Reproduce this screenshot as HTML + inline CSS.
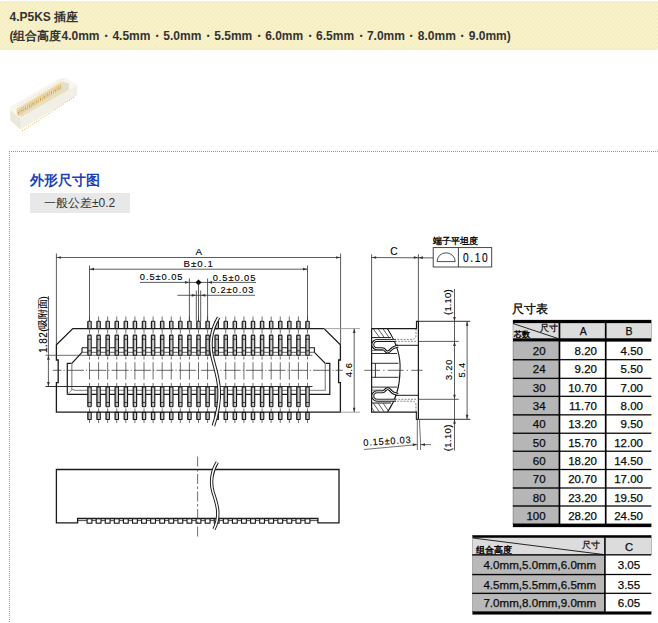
<!DOCTYPE html>
<html><head><meta charset="utf-8">
<style>
html,body{margin:0;padding:0;background:#fff;}
body{width:658px;height:623px;overflow:hidden;position:relative;font-family:"Liberation Sans",sans-serif;}
.hdr{position:absolute;left:0;top:1px;width:658px;height:49px;
 background:repeating-linear-gradient(135deg,#f9f2cf 0px,#f9f2cf 1.5px,#f6edbe 1.5px,#f6edbe 2.83px);}
.t1{position:absolute;left:9.5px;top:9px;font-size:12px;font-weight:bold;color:#333;white-space:nowrap;line-height:16px;}
.t2{position:absolute;left:9.5px;top:28px;font-size:12px;font-weight:bold;color:#333;white-space:nowrap;line-height:16px;}
.t2 i{font-style:normal;margin:0 0.45px;}
.dtop{position:absolute;left:9px;top:151px;width:649px;height:1px;background:repeating-linear-gradient(90deg,#999 0,#999 1px,transparent 1px,transparent 2px);}
.dleft{position:absolute;left:9px;top:151px;width:1px;height:472px;background:repeating-linear-gradient(180deg,#999 0,#999 1px,transparent 1px,transparent 2px);}
.ttl{position:absolute;left:30px;top:172px;font-size:13.5px;font-weight:bold;color:#1c40b8;white-space:nowrap;line-height:18px;}
.tol{position:absolute;left:30px;top:193px;width:100px;height:20px;background:#e8e8e8;}
.tol span{position:absolute;left:14px;top:2px;font-size:12px;color:#333;white-space:nowrap;line-height:16px;}
svg{position:absolute;left:0;top:0;}
svg text{font-family:"Liberation Sans",sans-serif;}
</style></head><body>
<div class="hdr"></div>
<div class="t1">4.P5KS 插座</div>
<div class="t2">(组合高度4.0mm<i>・</i>4.5mm<i>・</i>5.0mm<i>・</i>5.5mm<i>・</i>6.0mm<i>・</i>6.5mm<i>・</i>7.0mm<i>・</i>8.0mm<i>・</i>9.0mm)</div>
<svg width="658" height="623" viewBox="0 0 658 623">
<polygon points="10.4,106.8 59.8,78.3 65.5,78.3 77.1,85 77.1,95.1 20.5,129.2 16.5,126 10.4,120.3" fill="#f1eee5"/>
<polygon points="10.4,106.8 59.8,78.3 65.5,78.3 77.1,85 77.1,85.6 20.5,119 10.4,110.6" fill="#f8f6ef"/>
<polygon points="20.5,119 77.1,85.6 77.1,95.1 20.5,129.2" fill="#f2efe6"/>
<polygon points="10.4,110.6 20.5,119 20.5,129.2 16.5,126 10.4,120.3" fill="#ebe7da"/>
<polygon points="16.5,108.5 60.5,82.2 68.9,83.4 68.9,89.4 21,116.8 16.8,114.8" fill="#e9dfc2"/>
<polygon points="62.2,81.6 68.9,83.4 68.9,89.4 62.2,91.3" fill="#e4dece"/>
<circle cx="22.5" cy="130.6" r="0.55" fill="#e0b840"/><circle cx="24.54" cy="129.28" r="0.55" fill="#e0b840"/><circle cx="26.58" cy="127.95" r="0.55" fill="#e0b840"/><circle cx="28.62" cy="126.63" r="0.55" fill="#e0b840"/><circle cx="30.66" cy="125.3" r="0.55" fill="#e0b840"/><circle cx="32.7" cy="123.98" r="0.55" fill="#e0b840"/><circle cx="34.74" cy="122.66" r="0.55" fill="#e0b840"/><circle cx="36.78" cy="121.33" r="0.55" fill="#e0b840"/><circle cx="38.82" cy="120.01" r="0.55" fill="#e0b840"/><circle cx="40.86" cy="118.68" r="0.55" fill="#e0b840"/><circle cx="42.9" cy="117.36" r="0.55" fill="#e0b840"/><circle cx="44.94" cy="116.04" r="0.55" fill="#e0b840"/><circle cx="46.98" cy="114.71" r="0.55" fill="#e0b840"/><circle cx="49.02" cy="113.39" r="0.55" fill="#e0b840"/><circle cx="51.06" cy="112.06" r="0.55" fill="#e0b840"/><circle cx="53.1" cy="110.74" r="0.55" fill="#e0b840"/><circle cx="55.14" cy="109.42" r="0.55" fill="#e0b840"/><circle cx="57.18" cy="108.09" r="0.55" fill="#e0b840"/><circle cx="59.22" cy="106.77" r="0.55" fill="#e0b840"/><circle cx="61.26" cy="105.44" r="0.55" fill="#e0b840"/><circle cx="63.3" cy="104.12" r="0.55" fill="#e0b840"/><circle cx="65.34" cy="102.8" r="0.55" fill="#e0b840"/><circle cx="67.38" cy="101.47" r="0.55" fill="#e0b840"/><circle cx="69.42" cy="100.15" r="0.55" fill="#e0b840"/><circle cx="71.46" cy="98.82" r="0.55" fill="#e0b840"/><circle cx="73.5" cy="97.5" r="0.55" fill="#e0b840"/><line x1="18" y1="110.2" x2="18.5" y2="115.7" stroke="#d9bb70" stroke-width="0.8"/><circle cx="18" cy="110.2" r="0.6" fill="#f0cc4a"/><circle cx="18.3" cy="112.8" r="0.55" fill="#d06050"/><line x1="19.85" y1="109.08" x2="20.35" y2="114.58" stroke="#d9bb70" stroke-width="0.8"/><circle cx="19.85" cy="109.08" r="0.6" fill="#f0cc4a"/><circle cx="20.15" cy="111.68" r="0.55" fill="#e0a850"/><line x1="21.7" y1="107.96" x2="22.2" y2="113.46" stroke="#d9bb70" stroke-width="0.8"/><circle cx="21.7" cy="107.96" r="0.6" fill="#f0cc4a"/><circle cx="22" cy="110.56" r="0.55" fill="#d06050"/><line x1="23.54" y1="106.83" x2="24.04" y2="112.33" stroke="#d9bb70" stroke-width="0.8"/><circle cx="23.54" cy="106.83" r="0.6" fill="#f0cc4a"/><circle cx="23.84" cy="109.43" r="0.55" fill="#e0a850"/><line x1="25.39" y1="105.71" x2="25.89" y2="111.21" stroke="#d9bb70" stroke-width="0.8"/><circle cx="25.39" cy="105.71" r="0.6" fill="#f0cc4a"/><circle cx="25.69" cy="108.31" r="0.55" fill="#d06050"/><line x1="27.24" y1="104.59" x2="27.74" y2="110.09" stroke="#d9bb70" stroke-width="0.8"/><circle cx="27.24" cy="104.59" r="0.6" fill="#f0cc4a"/><circle cx="27.54" cy="107.19" r="0.55" fill="#e0a850"/><line x1="29.09" y1="103.47" x2="29.59" y2="108.97" stroke="#d9bb70" stroke-width="0.8"/><circle cx="29.09" cy="103.47" r="0.6" fill="#f0cc4a"/><circle cx="29.39" cy="106.07" r="0.55" fill="#d06050"/><line x1="30.93" y1="102.35" x2="31.43" y2="107.85" stroke="#d9bb70" stroke-width="0.8"/><circle cx="30.93" cy="102.35" r="0.6" fill="#f0cc4a"/><circle cx="31.23" cy="104.95" r="0.55" fill="#e0a850"/><line x1="32.78" y1="101.23" x2="33.28" y2="106.73" stroke="#d9bb70" stroke-width="0.8"/><circle cx="32.78" cy="101.23" r="0.6" fill="#f0cc4a"/><circle cx="33.08" cy="103.83" r="0.55" fill="#d06050"/><line x1="34.63" y1="100.1" x2="35.13" y2="105.6" stroke="#d9bb70" stroke-width="0.8"/><circle cx="34.63" cy="100.1" r="0.6" fill="#f0cc4a"/><circle cx="34.93" cy="102.7" r="0.55" fill="#e0a850"/><line x1="36.48" y1="98.98" x2="36.98" y2="104.48" stroke="#d9bb70" stroke-width="0.8"/><circle cx="36.48" cy="98.98" r="0.6" fill="#f0cc4a"/><circle cx="36.78" cy="101.58" r="0.55" fill="#d06050"/><line x1="38.33" y1="97.86" x2="38.83" y2="103.36" stroke="#d9bb70" stroke-width="0.8"/><circle cx="38.33" cy="97.86" r="0.6" fill="#f0cc4a"/><circle cx="38.63" cy="100.46" r="0.55" fill="#e0a850"/><line x1="40.17" y1="96.74" x2="40.67" y2="102.24" stroke="#d9bb70" stroke-width="0.8"/><circle cx="40.17" cy="96.74" r="0.6" fill="#f0cc4a"/><circle cx="40.47" cy="99.34" r="0.55" fill="#d06050"/><line x1="42.02" y1="95.62" x2="42.52" y2="101.12" stroke="#d9bb70" stroke-width="0.8"/><circle cx="42.02" cy="95.62" r="0.6" fill="#f0cc4a"/><circle cx="42.32" cy="98.22" r="0.55" fill="#e0a850"/><line x1="43.87" y1="94.5" x2="44.37" y2="100" stroke="#d9bb70" stroke-width="0.8"/><circle cx="43.87" cy="94.5" r="0.6" fill="#f0cc4a"/><circle cx="44.17" cy="97.1" r="0.55" fill="#d06050"/><line x1="45.72" y1="93.37" x2="46.22" y2="98.87" stroke="#d9bb70" stroke-width="0.8"/><circle cx="45.72" cy="93.37" r="0.6" fill="#f0cc4a"/><circle cx="46.02" cy="95.97" r="0.55" fill="#e0a850"/><line x1="47.57" y1="92.25" x2="48.07" y2="97.75" stroke="#d9bb70" stroke-width="0.8"/><circle cx="47.57" cy="92.25" r="0.6" fill="#f0cc4a"/><circle cx="47.87" cy="94.85" r="0.55" fill="#d06050"/><line x1="49.41" y1="91.13" x2="49.91" y2="96.63" stroke="#d9bb70" stroke-width="0.8"/><circle cx="49.41" cy="91.13" r="0.6" fill="#f0cc4a"/><circle cx="49.71" cy="93.73" r="0.55" fill="#e0a850"/><line x1="51.26" y1="90.01" x2="51.76" y2="95.51" stroke="#d9bb70" stroke-width="0.8"/><circle cx="51.26" cy="90.01" r="0.6" fill="#f0cc4a"/><circle cx="51.56" cy="92.61" r="0.55" fill="#d06050"/><line x1="53.11" y1="88.89" x2="53.61" y2="94.39" stroke="#d9bb70" stroke-width="0.8"/><circle cx="53.11" cy="88.89" r="0.6" fill="#f0cc4a"/><circle cx="53.41" cy="91.49" r="0.55" fill="#e0a850"/><line x1="54.96" y1="87.77" x2="55.46" y2="93.27" stroke="#d9bb70" stroke-width="0.8"/><circle cx="54.96" cy="87.77" r="0.6" fill="#f0cc4a"/><circle cx="55.26" cy="90.37" r="0.55" fill="#d06050"/><line x1="56.8" y1="86.64" x2="57.3" y2="92.14" stroke="#d9bb70" stroke-width="0.8"/><circle cx="56.8" cy="86.64" r="0.6" fill="#f0cc4a"/><circle cx="57.1" cy="89.24" r="0.55" fill="#e0a850"/><line x1="58.65" y1="85.52" x2="59.15" y2="91.02" stroke="#d9bb70" stroke-width="0.8"/><circle cx="58.65" cy="85.52" r="0.6" fill="#f0cc4a"/><circle cx="58.95" cy="88.12" r="0.55" fill="#d06050"/><line x1="60.5" y1="84.4" x2="61" y2="89.9" stroke="#d9bb70" stroke-width="0.8"/><circle cx="60.5" cy="84.4" r="0.6" fill="#f0cc4a"/><circle cx="60.8" cy="87" r="0.55" fill="#e0a850"/><circle cx="17.5" cy="105.5" r="0.5" fill="#f2dc78"/><circle cx="19.48" cy="104.37" r="0.5" fill="#f2dc78"/><circle cx="21.46" cy="103.24" r="0.5" fill="#f2dc78"/><circle cx="23.43" cy="102.11" r="0.5" fill="#f2dc78"/><circle cx="25.41" cy="100.98" r="0.5" fill="#f2dc78"/><circle cx="27.39" cy="99.85" r="0.5" fill="#f2dc78"/><circle cx="29.37" cy="98.72" r="0.5" fill="#f2dc78"/><circle cx="31.35" cy="97.59" r="0.5" fill="#f2dc78"/><circle cx="33.33" cy="96.46" r="0.5" fill="#f2dc78"/><circle cx="35.3" cy="95.33" r="0.5" fill="#f2dc78"/><circle cx="37.28" cy="94.2" r="0.5" fill="#f2dc78"/><circle cx="39.26" cy="93.07" r="0.5" fill="#f2dc78"/><circle cx="41.24" cy="91.93" r="0.5" fill="#f2dc78"/><circle cx="43.22" cy="90.8" r="0.5" fill="#f2dc78"/><circle cx="45.2" cy="89.67" r="0.5" fill="#f2dc78"/><circle cx="47.17" cy="88.54" r="0.5" fill="#f2dc78"/><circle cx="49.15" cy="87.41" r="0.5" fill="#f2dc78"/><circle cx="51.13" cy="86.28" r="0.5" fill="#f2dc78"/><circle cx="53.11" cy="85.15" r="0.5" fill="#f2dc78"/><circle cx="55.09" cy="84.02" r="0.5" fill="#f2dc78"/><circle cx="57.07" cy="82.89" r="0.5" fill="#f2dc78"/><circle cx="59.04" cy="81.76" r="0.5" fill="#f2dc78"/><circle cx="61.02" cy="80.63" r="0.5" fill="#f2dc78"/><circle cx="63" cy="79.5" r="0.5" fill="#f2dc78"/><circle cx="19.5" cy="118" r="0.55" fill="#f0d668"/><circle cx="21.52" cy="116.83" r="0.55" fill="#f0d668"/><circle cx="23.54" cy="115.65" r="0.55" fill="#f0d668"/><circle cx="25.57" cy="114.48" r="0.55" fill="#f0d668"/><circle cx="27.59" cy="113.3" r="0.55" fill="#f0d668"/><circle cx="29.61" cy="112.13" r="0.55" fill="#f0d668"/><circle cx="31.63" cy="110.96" r="0.55" fill="#f0d668"/><circle cx="33.65" cy="109.78" r="0.55" fill="#f0d668"/><circle cx="35.67" cy="108.61" r="0.55" fill="#f0d668"/><circle cx="37.7" cy="107.43" r="0.55" fill="#f0d668"/><circle cx="39.72" cy="106.26" r="0.55" fill="#f0d668"/><circle cx="41.74" cy="105.09" r="0.55" fill="#f0d668"/><circle cx="43.76" cy="103.91" r="0.55" fill="#f0d668"/><circle cx="45.78" cy="102.74" r="0.55" fill="#f0d668"/><circle cx="47.8" cy="101.57" r="0.55" fill="#f0d668"/><circle cx="49.83" cy="100.39" r="0.55" fill="#f0d668"/><circle cx="51.85" cy="99.22" r="0.55" fill="#f0d668"/><circle cx="53.87" cy="98.04" r="0.55" fill="#f0d668"/><circle cx="55.89" cy="96.87" r="0.55" fill="#f0d668"/><circle cx="57.91" cy="95.7" r="0.55" fill="#f0d668"/><circle cx="59.93" cy="94.52" r="0.55" fill="#f0d668"/><circle cx="61.96" cy="93.35" r="0.55" fill="#f0d668"/><circle cx="63.98" cy="92.17" r="0.55" fill="#f0d668"/><circle cx="66" cy="91" r="0.55" fill="#f0d668"/></svg>
<div class="dtop"></div><div class="dleft"></div>
<div class="ttl">外形尺寸图</div>
<div class="tol"><span>一般公差±0.2</span></div>
<svg width="658" height="623" viewBox="0 0 658 623">
<line x1="89.5" y1="316.5" x2="89.5" y2="321" stroke="#333" stroke-width="0.7" />
<line x1="89.5" y1="330" x2="89.5" y2="333.5" stroke="#333" stroke-width="0.7" />
<line x1="89.5" y1="356.5" x2="89.5" y2="359.5" stroke="#333" stroke-width="0.7" />
<line x1="89.5" y1="362.2" x2="89.5" y2="379.6" stroke="#333" stroke-width="0.7" />
<line x1="89.5" y1="383" x2="89.5" y2="386" stroke="#333" stroke-width="0.7" />
<line x1="89.5" y1="408.5" x2="89.5" y2="411.5" stroke="#333" stroke-width="0.7" />
<line x1="89.5" y1="420" x2="89.5" y2="423" stroke="#333" stroke-width="0.7" />
<line x1="98.58" y1="316.5" x2="98.58" y2="321" stroke="#333" stroke-width="0.7" />
<line x1="98.58" y1="330" x2="98.58" y2="333.5" stroke="#333" stroke-width="0.7" />
<line x1="98.58" y1="356.5" x2="98.58" y2="359.5" stroke="#333" stroke-width="0.7" />
<line x1="98.58" y1="362.2" x2="98.58" y2="379.6" stroke="#333" stroke-width="0.7" />
<line x1="98.58" y1="383" x2="98.58" y2="386" stroke="#333" stroke-width="0.7" />
<line x1="98.58" y1="408.5" x2="98.58" y2="411.5" stroke="#333" stroke-width="0.7" />
<line x1="98.58" y1="420" x2="98.58" y2="423" stroke="#333" stroke-width="0.7" />
<line x1="107.67" y1="316.5" x2="107.67" y2="321" stroke="#333" stroke-width="0.7" />
<line x1="107.67" y1="330" x2="107.67" y2="333.5" stroke="#333" stroke-width="0.7" />
<line x1="107.67" y1="356.5" x2="107.67" y2="359.5" stroke="#333" stroke-width="0.7" />
<line x1="107.67" y1="362.2" x2="107.67" y2="379.6" stroke="#333" stroke-width="0.7" />
<line x1="107.67" y1="383" x2="107.67" y2="386" stroke="#333" stroke-width="0.7" />
<line x1="107.67" y1="408.5" x2="107.67" y2="411.5" stroke="#333" stroke-width="0.7" />
<line x1="107.67" y1="420" x2="107.67" y2="423" stroke="#333" stroke-width="0.7" />
<line x1="116.75" y1="316.5" x2="116.75" y2="321" stroke="#333" stroke-width="0.7" />
<line x1="116.75" y1="330" x2="116.75" y2="333.5" stroke="#333" stroke-width="0.7" />
<line x1="116.75" y1="356.5" x2="116.75" y2="359.5" stroke="#333" stroke-width="0.7" />
<line x1="116.75" y1="362.2" x2="116.75" y2="379.6" stroke="#333" stroke-width="0.7" />
<line x1="116.75" y1="383" x2="116.75" y2="386" stroke="#333" stroke-width="0.7" />
<line x1="116.75" y1="408.5" x2="116.75" y2="411.5" stroke="#333" stroke-width="0.7" />
<line x1="116.75" y1="420" x2="116.75" y2="423" stroke="#333" stroke-width="0.7" />
<line x1="125.83" y1="316.5" x2="125.83" y2="321" stroke="#333" stroke-width="0.7" />
<line x1="125.83" y1="330" x2="125.83" y2="333.5" stroke="#333" stroke-width="0.7" />
<line x1="125.83" y1="356.5" x2="125.83" y2="359.5" stroke="#333" stroke-width="0.7" />
<line x1="125.83" y1="362.2" x2="125.83" y2="379.6" stroke="#333" stroke-width="0.7" />
<line x1="125.83" y1="383" x2="125.83" y2="386" stroke="#333" stroke-width="0.7" />
<line x1="125.83" y1="408.5" x2="125.83" y2="411.5" stroke="#333" stroke-width="0.7" />
<line x1="125.83" y1="420" x2="125.83" y2="423" stroke="#333" stroke-width="0.7" />
<line x1="134.92" y1="316.5" x2="134.92" y2="321" stroke="#333" stroke-width="0.7" />
<line x1="134.92" y1="330" x2="134.92" y2="333.5" stroke="#333" stroke-width="0.7" />
<line x1="134.92" y1="356.5" x2="134.92" y2="359.5" stroke="#333" stroke-width="0.7" />
<line x1="134.92" y1="362.2" x2="134.92" y2="379.6" stroke="#333" stroke-width="0.7" />
<line x1="134.92" y1="383" x2="134.92" y2="386" stroke="#333" stroke-width="0.7" />
<line x1="134.92" y1="408.5" x2="134.92" y2="411.5" stroke="#333" stroke-width="0.7" />
<line x1="134.92" y1="420" x2="134.92" y2="423" stroke="#333" stroke-width="0.7" />
<line x1="144" y1="316.5" x2="144" y2="321" stroke="#333" stroke-width="0.7" />
<line x1="144" y1="330" x2="144" y2="333.5" stroke="#333" stroke-width="0.7" />
<line x1="144" y1="356.5" x2="144" y2="359.5" stroke="#333" stroke-width="0.7" />
<line x1="144" y1="362.2" x2="144" y2="379.6" stroke="#333" stroke-width="0.7" />
<line x1="144" y1="383" x2="144" y2="386" stroke="#333" stroke-width="0.7" />
<line x1="144" y1="408.5" x2="144" y2="411.5" stroke="#333" stroke-width="0.7" />
<line x1="144" y1="420" x2="144" y2="423" stroke="#333" stroke-width="0.7" />
<line x1="153.08" y1="316.5" x2="153.08" y2="321" stroke="#333" stroke-width="0.7" />
<line x1="153.08" y1="330" x2="153.08" y2="333.5" stroke="#333" stroke-width="0.7" />
<line x1="153.08" y1="356.5" x2="153.08" y2="359.5" stroke="#333" stroke-width="0.7" />
<line x1="153.08" y1="362.2" x2="153.08" y2="379.6" stroke="#333" stroke-width="0.7" />
<line x1="153.08" y1="383" x2="153.08" y2="386" stroke="#333" stroke-width="0.7" />
<line x1="153.08" y1="408.5" x2="153.08" y2="411.5" stroke="#333" stroke-width="0.7" />
<line x1="153.08" y1="420" x2="153.08" y2="423" stroke="#333" stroke-width="0.7" />
<line x1="162.17" y1="316.5" x2="162.17" y2="321" stroke="#333" stroke-width="0.7" />
<line x1="162.17" y1="330" x2="162.17" y2="333.5" stroke="#333" stroke-width="0.7" />
<line x1="162.17" y1="356.5" x2="162.17" y2="359.5" stroke="#333" stroke-width="0.7" />
<line x1="162.17" y1="362.2" x2="162.17" y2="379.6" stroke="#333" stroke-width="0.7" />
<line x1="162.17" y1="383" x2="162.17" y2="386" stroke="#333" stroke-width="0.7" />
<line x1="162.17" y1="408.5" x2="162.17" y2="411.5" stroke="#333" stroke-width="0.7" />
<line x1="162.17" y1="420" x2="162.17" y2="423" stroke="#333" stroke-width="0.7" />
<line x1="171.25" y1="316.5" x2="171.25" y2="321" stroke="#333" stroke-width="0.7" />
<line x1="171.25" y1="330" x2="171.25" y2="333.5" stroke="#333" stroke-width="0.7" />
<line x1="171.25" y1="356.5" x2="171.25" y2="359.5" stroke="#333" stroke-width="0.7" />
<line x1="171.25" y1="362.2" x2="171.25" y2="379.6" stroke="#333" stroke-width="0.7" />
<line x1="171.25" y1="383" x2="171.25" y2="386" stroke="#333" stroke-width="0.7" />
<line x1="171.25" y1="408.5" x2="171.25" y2="411.5" stroke="#333" stroke-width="0.7" />
<line x1="171.25" y1="420" x2="171.25" y2="423" stroke="#333" stroke-width="0.7" />
<line x1="180.33" y1="316.5" x2="180.33" y2="321" stroke="#333" stroke-width="0.7" />
<line x1="180.33" y1="330" x2="180.33" y2="333.5" stroke="#333" stroke-width="0.7" />
<line x1="180.33" y1="356.5" x2="180.33" y2="359.5" stroke="#333" stroke-width="0.7" />
<line x1="180.33" y1="362.2" x2="180.33" y2="379.6" stroke="#333" stroke-width="0.7" />
<line x1="180.33" y1="383" x2="180.33" y2="386" stroke="#333" stroke-width="0.7" />
<line x1="180.33" y1="408.5" x2="180.33" y2="411.5" stroke="#333" stroke-width="0.7" />
<line x1="180.33" y1="420" x2="180.33" y2="423" stroke="#333" stroke-width="0.7" />
<line x1="189.42" y1="316.5" x2="189.42" y2="321" stroke="#333" stroke-width="0.7" />
<line x1="189.42" y1="330" x2="189.42" y2="333.5" stroke="#333" stroke-width="0.7" />
<line x1="189.42" y1="356.5" x2="189.42" y2="359.5" stroke="#333" stroke-width="0.7" />
<line x1="189.42" y1="362.2" x2="189.42" y2="379.6" stroke="#333" stroke-width="0.7" />
<line x1="189.42" y1="383" x2="189.42" y2="386" stroke="#333" stroke-width="0.7" />
<line x1="189.42" y1="408.5" x2="189.42" y2="411.5" stroke="#333" stroke-width="0.7" />
<line x1="189.42" y1="420" x2="189.42" y2="423" stroke="#333" stroke-width="0.7" />
<line x1="198.5" y1="316.5" x2="198.5" y2="321" stroke="#333" stroke-width="0.7" />
<line x1="198.5" y1="330" x2="198.5" y2="333.5" stroke="#333" stroke-width="0.7" />
<line x1="198.5" y1="356.5" x2="198.5" y2="359.5" stroke="#333" stroke-width="0.7" />
<line x1="198.5" y1="362.2" x2="198.5" y2="379.6" stroke="#333" stroke-width="0.7" />
<line x1="198.5" y1="383" x2="198.5" y2="386" stroke="#333" stroke-width="0.7" />
<line x1="198.5" y1="408.5" x2="198.5" y2="411.5" stroke="#333" stroke-width="0.7" />
<line x1="198.5" y1="420" x2="198.5" y2="423" stroke="#333" stroke-width="0.7" />
<line x1="207.58" y1="316.5" x2="207.58" y2="321" stroke="#333" stroke-width="0.7" />
<line x1="207.58" y1="330" x2="207.58" y2="333.5" stroke="#333" stroke-width="0.7" />
<line x1="207.58" y1="356.5" x2="207.58" y2="359.5" stroke="#333" stroke-width="0.7" />
<line x1="207.58" y1="362.2" x2="207.58" y2="379.6" stroke="#333" stroke-width="0.7" />
<line x1="207.58" y1="383" x2="207.58" y2="386" stroke="#333" stroke-width="0.7" />
<line x1="207.58" y1="408.5" x2="207.58" y2="411.5" stroke="#333" stroke-width="0.7" />
<line x1="207.58" y1="420" x2="207.58" y2="423" stroke="#333" stroke-width="0.7" />
<line x1="225.75" y1="316.5" x2="225.75" y2="321" stroke="#333" stroke-width="0.7" />
<line x1="225.75" y1="330" x2="225.75" y2="333.5" stroke="#333" stroke-width="0.7" />
<line x1="225.75" y1="356.5" x2="225.75" y2="359.5" stroke="#333" stroke-width="0.7" />
<line x1="225.75" y1="362.2" x2="225.75" y2="379.6" stroke="#333" stroke-width="0.7" />
<line x1="225.75" y1="383" x2="225.75" y2="386" stroke="#333" stroke-width="0.7" />
<line x1="225.75" y1="408.5" x2="225.75" y2="411.5" stroke="#333" stroke-width="0.7" />
<line x1="225.75" y1="420" x2="225.75" y2="423" stroke="#333" stroke-width="0.7" />
<line x1="234.83" y1="316.5" x2="234.83" y2="321" stroke="#333" stroke-width="0.7" />
<line x1="234.83" y1="330" x2="234.83" y2="333.5" stroke="#333" stroke-width="0.7" />
<line x1="234.83" y1="356.5" x2="234.83" y2="359.5" stroke="#333" stroke-width="0.7" />
<line x1="234.83" y1="362.2" x2="234.83" y2="379.6" stroke="#333" stroke-width="0.7" />
<line x1="234.83" y1="383" x2="234.83" y2="386" stroke="#333" stroke-width="0.7" />
<line x1="234.83" y1="408.5" x2="234.83" y2="411.5" stroke="#333" stroke-width="0.7" />
<line x1="234.83" y1="420" x2="234.83" y2="423" stroke="#333" stroke-width="0.7" />
<line x1="243.92" y1="316.5" x2="243.92" y2="321" stroke="#333" stroke-width="0.7" />
<line x1="243.92" y1="330" x2="243.92" y2="333.5" stroke="#333" stroke-width="0.7" />
<line x1="243.92" y1="356.5" x2="243.92" y2="359.5" stroke="#333" stroke-width="0.7" />
<line x1="243.92" y1="362.2" x2="243.92" y2="379.6" stroke="#333" stroke-width="0.7" />
<line x1="243.92" y1="383" x2="243.92" y2="386" stroke="#333" stroke-width="0.7" />
<line x1="243.92" y1="408.5" x2="243.92" y2="411.5" stroke="#333" stroke-width="0.7" />
<line x1="243.92" y1="420" x2="243.92" y2="423" stroke="#333" stroke-width="0.7" />
<line x1="253" y1="316.5" x2="253" y2="321" stroke="#333" stroke-width="0.7" />
<line x1="253" y1="330" x2="253" y2="333.5" stroke="#333" stroke-width="0.7" />
<line x1="253" y1="356.5" x2="253" y2="359.5" stroke="#333" stroke-width="0.7" />
<line x1="253" y1="362.2" x2="253" y2="379.6" stroke="#333" stroke-width="0.7" />
<line x1="253" y1="383" x2="253" y2="386" stroke="#333" stroke-width="0.7" />
<line x1="253" y1="408.5" x2="253" y2="411.5" stroke="#333" stroke-width="0.7" />
<line x1="253" y1="420" x2="253" y2="423" stroke="#333" stroke-width="0.7" />
<line x1="262.08" y1="316.5" x2="262.08" y2="321" stroke="#333" stroke-width="0.7" />
<line x1="262.08" y1="330" x2="262.08" y2="333.5" stroke="#333" stroke-width="0.7" />
<line x1="262.08" y1="356.5" x2="262.08" y2="359.5" stroke="#333" stroke-width="0.7" />
<line x1="262.08" y1="362.2" x2="262.08" y2="379.6" stroke="#333" stroke-width="0.7" />
<line x1="262.08" y1="383" x2="262.08" y2="386" stroke="#333" stroke-width="0.7" />
<line x1="262.08" y1="408.5" x2="262.08" y2="411.5" stroke="#333" stroke-width="0.7" />
<line x1="262.08" y1="420" x2="262.08" y2="423" stroke="#333" stroke-width="0.7" />
<line x1="271.17" y1="316.5" x2="271.17" y2="321" stroke="#333" stroke-width="0.7" />
<line x1="271.17" y1="330" x2="271.17" y2="333.5" stroke="#333" stroke-width="0.7" />
<line x1="271.17" y1="356.5" x2="271.17" y2="359.5" stroke="#333" stroke-width="0.7" />
<line x1="271.17" y1="362.2" x2="271.17" y2="379.6" stroke="#333" stroke-width="0.7" />
<line x1="271.17" y1="383" x2="271.17" y2="386" stroke="#333" stroke-width="0.7" />
<line x1="271.17" y1="408.5" x2="271.17" y2="411.5" stroke="#333" stroke-width="0.7" />
<line x1="271.17" y1="420" x2="271.17" y2="423" stroke="#333" stroke-width="0.7" />
<line x1="280.25" y1="316.5" x2="280.25" y2="321" stroke="#333" stroke-width="0.7" />
<line x1="280.25" y1="330" x2="280.25" y2="333.5" stroke="#333" stroke-width="0.7" />
<line x1="280.25" y1="356.5" x2="280.25" y2="359.5" stroke="#333" stroke-width="0.7" />
<line x1="280.25" y1="362.2" x2="280.25" y2="379.6" stroke="#333" stroke-width="0.7" />
<line x1="280.25" y1="383" x2="280.25" y2="386" stroke="#333" stroke-width="0.7" />
<line x1="280.25" y1="408.5" x2="280.25" y2="411.5" stroke="#333" stroke-width="0.7" />
<line x1="280.25" y1="420" x2="280.25" y2="423" stroke="#333" stroke-width="0.7" />
<line x1="289.33" y1="316.5" x2="289.33" y2="321" stroke="#333" stroke-width="0.7" />
<line x1="289.33" y1="330" x2="289.33" y2="333.5" stroke="#333" stroke-width="0.7" />
<line x1="289.33" y1="356.5" x2="289.33" y2="359.5" stroke="#333" stroke-width="0.7" />
<line x1="289.33" y1="362.2" x2="289.33" y2="379.6" stroke="#333" stroke-width="0.7" />
<line x1="289.33" y1="383" x2="289.33" y2="386" stroke="#333" stroke-width="0.7" />
<line x1="289.33" y1="408.5" x2="289.33" y2="411.5" stroke="#333" stroke-width="0.7" />
<line x1="289.33" y1="420" x2="289.33" y2="423" stroke="#333" stroke-width="0.7" />
<line x1="298.42" y1="316.5" x2="298.42" y2="321" stroke="#333" stroke-width="0.7" />
<line x1="298.42" y1="330" x2="298.42" y2="333.5" stroke="#333" stroke-width="0.7" />
<line x1="298.42" y1="356.5" x2="298.42" y2="359.5" stroke="#333" stroke-width="0.7" />
<line x1="298.42" y1="362.2" x2="298.42" y2="379.6" stroke="#333" stroke-width="0.7" />
<line x1="298.42" y1="383" x2="298.42" y2="386" stroke="#333" stroke-width="0.7" />
<line x1="298.42" y1="408.5" x2="298.42" y2="411.5" stroke="#333" stroke-width="0.7" />
<line x1="298.42" y1="420" x2="298.42" y2="423" stroke="#333" stroke-width="0.7" />
<line x1="307.5" y1="316.5" x2="307.5" y2="321" stroke="#333" stroke-width="0.7" />
<line x1="307.5" y1="330" x2="307.5" y2="333.5" stroke="#333" stroke-width="0.7" />
<line x1="307.5" y1="356.5" x2="307.5" y2="359.5" stroke="#333" stroke-width="0.7" />
<line x1="307.5" y1="362.2" x2="307.5" y2="379.6" stroke="#333" stroke-width="0.7" />
<line x1="307.5" y1="383" x2="307.5" y2="386" stroke="#333" stroke-width="0.7" />
<line x1="307.5" y1="408.5" x2="307.5" y2="411.5" stroke="#333" stroke-width="0.7" />
<line x1="307.5" y1="420" x2="307.5" y2="423" stroke="#333" stroke-width="0.7" />
<path d="M72.8,328.6 H324 L340.4,344.7 V360 H338.6 V382.6 H340.4 V412.2 H56.4 V382.6 H58.2 V360 H56.4 V344.7 Z" stroke="#1a1a1a" stroke-width="1.3" fill="none" />
<path d="M82,347.7 H314.4 V352.3" stroke="#1a1a1a" stroke-width="1.1" fill="none" />
<path d="M82,352.3 V347.7" stroke="#1a1a1a" stroke-width="1.1" fill="none" />
<line x1="82" y1="352.3" x2="314.4" y2="352.3" stroke="#1a1a1a" stroke-width="0.7" />
<line x1="45.5" y1="355.3" x2="312.5" y2="355.3" stroke="#333" stroke-width="0.7" />
<path d="M82,352.3 L71.8,363.3 H67.3 V394.3 H329.8 V363.3 H325.3 L314.4,352.3" stroke="#1a1a1a" stroke-width="1.2" fill="none" />
<path d="M71.8,363.3 V389.5 L75.5,390.4 H325.3 V363.3" stroke="#9a9a9a" stroke-width="1.4" fill="none" />
<line x1="67.3" y1="394.3" x2="72" y2="390" stroke="#9a9a9a" stroke-width="1" />
<line x1="45.5" y1="386.5" x2="312.5" y2="386.5" stroke="#1a1a1a" stroke-width="0.9" />
<line x1="52.8" y1="370.3" x2="342.8" y2="370.3" stroke="#333" stroke-width="0.75" stroke-dasharray="17.2,2,1.2,2" stroke-dashoffset="8.5"/>
<defs><linearGradient id="pg" x1="0" x2="1" y1="0" y2="0"><stop offset="0" stop-color="#8a8a8a"/><stop offset="0.5" stop-color="#c4c4c4"/><stop offset="1" stop-color="#f0f0f0"/></linearGradient></defs>
<rect x="87.8" y="321.2" width="3.4" height="7.4" fill="url(#pg)" stroke="#1a1a1a" stroke-width="1.15" rx="0.6"/>
<rect x="87.8" y="412.4" width="3.4" height="7.1" fill="url(#pg)" stroke="#1a1a1a" stroke-width="1.15" rx="0.6"/>
<rect x="87.8" y="335.1" width="3.4" height="20.1" fill="url(#pg)" stroke="#1a1a1a" stroke-width="1.15" rx="0.6"/>
<line x1="87.8" y1="339.3" x2="91.2" y2="339.3" stroke="#1a1a1a" stroke-width="0.8" />
<line x1="87.8" y1="350.8" x2="91.2" y2="350.8" stroke="#1a1a1a" stroke-width="0.8" />
<rect x="87.8" y="387" width="3.4" height="19.7" fill="url(#pg)" stroke="#1a1a1a" stroke-width="1.15" rx="0.6"/>
<line x1="87.8" y1="402.5" x2="91.2" y2="402.5" stroke="#1a1a1a" stroke-width="0.8" />
<rect x="96.88" y="321.2" width="3.4" height="7.4" fill="url(#pg)" stroke="#1a1a1a" stroke-width="1.15" rx="0.6"/>
<rect x="96.88" y="412.4" width="3.4" height="7.1" fill="url(#pg)" stroke="#1a1a1a" stroke-width="1.15" rx="0.6"/>
<rect x="96.88" y="335.1" width="3.4" height="20.1" fill="url(#pg)" stroke="#1a1a1a" stroke-width="1.15" rx="0.6"/>
<line x1="96.88" y1="339.3" x2="100.28" y2="339.3" stroke="#1a1a1a" stroke-width="0.8" />
<line x1="96.88" y1="350.8" x2="100.28" y2="350.8" stroke="#1a1a1a" stroke-width="0.8" />
<rect x="96.88" y="387" width="3.4" height="19.7" fill="url(#pg)" stroke="#1a1a1a" stroke-width="1.15" rx="0.6"/>
<line x1="96.88" y1="402.5" x2="100.28" y2="402.5" stroke="#1a1a1a" stroke-width="0.8" />
<rect x="105.97" y="321.2" width="3.4" height="7.4" fill="url(#pg)" stroke="#1a1a1a" stroke-width="1.15" rx="0.6"/>
<rect x="105.97" y="412.4" width="3.4" height="7.1" fill="url(#pg)" stroke="#1a1a1a" stroke-width="1.15" rx="0.6"/>
<rect x="105.97" y="335.1" width="3.4" height="20.1" fill="url(#pg)" stroke="#1a1a1a" stroke-width="1.15" rx="0.6"/>
<line x1="105.97" y1="339.3" x2="109.37" y2="339.3" stroke="#1a1a1a" stroke-width="0.8" />
<line x1="105.97" y1="350.8" x2="109.37" y2="350.8" stroke="#1a1a1a" stroke-width="0.8" />
<rect x="105.97" y="387" width="3.4" height="19.7" fill="url(#pg)" stroke="#1a1a1a" stroke-width="1.15" rx="0.6"/>
<line x1="105.97" y1="402.5" x2="109.37" y2="402.5" stroke="#1a1a1a" stroke-width="0.8" />
<rect x="115.05" y="321.2" width="3.4" height="7.4" fill="url(#pg)" stroke="#1a1a1a" stroke-width="1.15" rx="0.6"/>
<rect x="115.05" y="412.4" width="3.4" height="7.1" fill="url(#pg)" stroke="#1a1a1a" stroke-width="1.15" rx="0.6"/>
<rect x="115.05" y="335.1" width="3.4" height="20.1" fill="url(#pg)" stroke="#1a1a1a" stroke-width="1.15" rx="0.6"/>
<line x1="115.05" y1="339.3" x2="118.45" y2="339.3" stroke="#1a1a1a" stroke-width="0.8" />
<line x1="115.05" y1="350.8" x2="118.45" y2="350.8" stroke="#1a1a1a" stroke-width="0.8" />
<rect x="115.05" y="387" width="3.4" height="19.7" fill="url(#pg)" stroke="#1a1a1a" stroke-width="1.15" rx="0.6"/>
<line x1="115.05" y1="402.5" x2="118.45" y2="402.5" stroke="#1a1a1a" stroke-width="0.8" />
<rect x="124.13" y="321.2" width="3.4" height="7.4" fill="url(#pg)" stroke="#1a1a1a" stroke-width="1.15" rx="0.6"/>
<rect x="124.13" y="412.4" width="3.4" height="7.1" fill="url(#pg)" stroke="#1a1a1a" stroke-width="1.15" rx="0.6"/>
<rect x="124.13" y="335.1" width="3.4" height="20.1" fill="url(#pg)" stroke="#1a1a1a" stroke-width="1.15" rx="0.6"/>
<line x1="124.13" y1="339.3" x2="127.53" y2="339.3" stroke="#1a1a1a" stroke-width="0.8" />
<line x1="124.13" y1="350.8" x2="127.53" y2="350.8" stroke="#1a1a1a" stroke-width="0.8" />
<rect x="124.13" y="387" width="3.4" height="19.7" fill="url(#pg)" stroke="#1a1a1a" stroke-width="1.15" rx="0.6"/>
<line x1="124.13" y1="402.5" x2="127.53" y2="402.5" stroke="#1a1a1a" stroke-width="0.8" />
<rect x="133.22" y="321.2" width="3.4" height="7.4" fill="url(#pg)" stroke="#1a1a1a" stroke-width="1.15" rx="0.6"/>
<rect x="133.22" y="412.4" width="3.4" height="7.1" fill="url(#pg)" stroke="#1a1a1a" stroke-width="1.15" rx="0.6"/>
<rect x="133.22" y="335.1" width="3.4" height="20.1" fill="url(#pg)" stroke="#1a1a1a" stroke-width="1.15" rx="0.6"/>
<line x1="133.22" y1="339.3" x2="136.62" y2="339.3" stroke="#1a1a1a" stroke-width="0.8" />
<line x1="133.22" y1="350.8" x2="136.62" y2="350.8" stroke="#1a1a1a" stroke-width="0.8" />
<rect x="133.22" y="387" width="3.4" height="19.7" fill="url(#pg)" stroke="#1a1a1a" stroke-width="1.15" rx="0.6"/>
<line x1="133.22" y1="402.5" x2="136.62" y2="402.5" stroke="#1a1a1a" stroke-width="0.8" />
<rect x="142.3" y="321.2" width="3.4" height="7.4" fill="url(#pg)" stroke="#1a1a1a" stroke-width="1.15" rx="0.6"/>
<rect x="142.3" y="412.4" width="3.4" height="7.1" fill="url(#pg)" stroke="#1a1a1a" stroke-width="1.15" rx="0.6"/>
<rect x="142.3" y="335.1" width="3.4" height="20.1" fill="url(#pg)" stroke="#1a1a1a" stroke-width="1.15" rx="0.6"/>
<line x1="142.3" y1="339.3" x2="145.7" y2="339.3" stroke="#1a1a1a" stroke-width="0.8" />
<line x1="142.3" y1="350.8" x2="145.7" y2="350.8" stroke="#1a1a1a" stroke-width="0.8" />
<rect x="142.3" y="387" width="3.4" height="19.7" fill="url(#pg)" stroke="#1a1a1a" stroke-width="1.15" rx="0.6"/>
<line x1="142.3" y1="402.5" x2="145.7" y2="402.5" stroke="#1a1a1a" stroke-width="0.8" />
<rect x="151.38" y="321.2" width="3.4" height="7.4" fill="url(#pg)" stroke="#1a1a1a" stroke-width="1.15" rx="0.6"/>
<rect x="151.38" y="412.4" width="3.4" height="7.1" fill="url(#pg)" stroke="#1a1a1a" stroke-width="1.15" rx="0.6"/>
<rect x="151.38" y="335.1" width="3.4" height="20.1" fill="url(#pg)" stroke="#1a1a1a" stroke-width="1.15" rx="0.6"/>
<line x1="151.38" y1="339.3" x2="154.78" y2="339.3" stroke="#1a1a1a" stroke-width="0.8" />
<line x1="151.38" y1="350.8" x2="154.78" y2="350.8" stroke="#1a1a1a" stroke-width="0.8" />
<rect x="151.38" y="387" width="3.4" height="19.7" fill="url(#pg)" stroke="#1a1a1a" stroke-width="1.15" rx="0.6"/>
<line x1="151.38" y1="402.5" x2="154.78" y2="402.5" stroke="#1a1a1a" stroke-width="0.8" />
<rect x="160.47" y="321.2" width="3.4" height="7.4" fill="url(#pg)" stroke="#1a1a1a" stroke-width="1.15" rx="0.6"/>
<rect x="160.47" y="412.4" width="3.4" height="7.1" fill="url(#pg)" stroke="#1a1a1a" stroke-width="1.15" rx="0.6"/>
<rect x="160.47" y="335.1" width="3.4" height="20.1" fill="url(#pg)" stroke="#1a1a1a" stroke-width="1.15" rx="0.6"/>
<line x1="160.47" y1="339.3" x2="163.87" y2="339.3" stroke="#1a1a1a" stroke-width="0.8" />
<line x1="160.47" y1="350.8" x2="163.87" y2="350.8" stroke="#1a1a1a" stroke-width="0.8" />
<rect x="160.47" y="387" width="3.4" height="19.7" fill="url(#pg)" stroke="#1a1a1a" stroke-width="1.15" rx="0.6"/>
<line x1="160.47" y1="402.5" x2="163.87" y2="402.5" stroke="#1a1a1a" stroke-width="0.8" />
<rect x="169.55" y="321.2" width="3.4" height="7.4" fill="url(#pg)" stroke="#1a1a1a" stroke-width="1.15" rx="0.6"/>
<rect x="169.55" y="412.4" width="3.4" height="7.1" fill="url(#pg)" stroke="#1a1a1a" stroke-width="1.15" rx="0.6"/>
<rect x="169.55" y="335.1" width="3.4" height="20.1" fill="url(#pg)" stroke="#1a1a1a" stroke-width="1.15" rx="0.6"/>
<line x1="169.55" y1="339.3" x2="172.95" y2="339.3" stroke="#1a1a1a" stroke-width="0.8" />
<line x1="169.55" y1="350.8" x2="172.95" y2="350.8" stroke="#1a1a1a" stroke-width="0.8" />
<rect x="169.55" y="387" width="3.4" height="19.7" fill="url(#pg)" stroke="#1a1a1a" stroke-width="1.15" rx="0.6"/>
<line x1="169.55" y1="402.5" x2="172.95" y2="402.5" stroke="#1a1a1a" stroke-width="0.8" />
<rect x="178.63" y="321.2" width="3.4" height="7.4" fill="url(#pg)" stroke="#1a1a1a" stroke-width="1.15" rx="0.6"/>
<rect x="178.63" y="412.4" width="3.4" height="7.1" fill="url(#pg)" stroke="#1a1a1a" stroke-width="1.15" rx="0.6"/>
<rect x="178.63" y="335.1" width="3.4" height="20.1" fill="url(#pg)" stroke="#1a1a1a" stroke-width="1.15" rx="0.6"/>
<line x1="178.63" y1="339.3" x2="182.03" y2="339.3" stroke="#1a1a1a" stroke-width="0.8" />
<line x1="178.63" y1="350.8" x2="182.03" y2="350.8" stroke="#1a1a1a" stroke-width="0.8" />
<rect x="178.63" y="387" width="3.4" height="19.7" fill="url(#pg)" stroke="#1a1a1a" stroke-width="1.15" rx="0.6"/>
<line x1="178.63" y1="402.5" x2="182.03" y2="402.5" stroke="#1a1a1a" stroke-width="0.8" />
<rect x="187.72" y="321.2" width="3.4" height="7.4" fill="url(#pg)" stroke="#1a1a1a" stroke-width="1.15" rx="0.6"/>
<rect x="187.72" y="412.4" width="3.4" height="7.1" fill="url(#pg)" stroke="#1a1a1a" stroke-width="1.15" rx="0.6"/>
<rect x="187.72" y="335.1" width="3.4" height="20.1" fill="url(#pg)" stroke="#1a1a1a" stroke-width="1.15" rx="0.6"/>
<line x1="187.72" y1="339.3" x2="191.12" y2="339.3" stroke="#1a1a1a" stroke-width="0.8" />
<line x1="187.72" y1="350.8" x2="191.12" y2="350.8" stroke="#1a1a1a" stroke-width="0.8" />
<rect x="187.72" y="387" width="3.4" height="19.7" fill="url(#pg)" stroke="#1a1a1a" stroke-width="1.15" rx="0.6"/>
<line x1="187.72" y1="402.5" x2="191.12" y2="402.5" stroke="#1a1a1a" stroke-width="0.8" />
<rect x="196.8" y="321.2" width="3.4" height="7.4" fill="url(#pg)" stroke="#1a1a1a" stroke-width="1.15" rx="0.6"/>
<rect x="196.8" y="412.4" width="3.4" height="7.1" fill="url(#pg)" stroke="#1a1a1a" stroke-width="1.15" rx="0.6"/>
<rect x="196.8" y="335.1" width="3.4" height="20.1" fill="url(#pg)" stroke="#1a1a1a" stroke-width="1.15" rx="0.6"/>
<line x1="196.8" y1="339.3" x2="200.2" y2="339.3" stroke="#1a1a1a" stroke-width="0.8" />
<line x1="196.8" y1="350.8" x2="200.2" y2="350.8" stroke="#1a1a1a" stroke-width="0.8" />
<rect x="196.8" y="387" width="3.4" height="19.7" fill="url(#pg)" stroke="#1a1a1a" stroke-width="1.15" rx="0.6"/>
<line x1="196.8" y1="402.5" x2="200.2" y2="402.5" stroke="#1a1a1a" stroke-width="0.8" />
<rect x="205.88" y="321.2" width="3.4" height="7.4" fill="url(#pg)" stroke="#1a1a1a" stroke-width="1.15" rx="0.6"/>
<rect x="205.88" y="412.4" width="3.4" height="7.1" fill="url(#pg)" stroke="#1a1a1a" stroke-width="1.15" rx="0.6"/>
<rect x="205.88" y="335.1" width="3.4" height="20.1" fill="url(#pg)" stroke="#1a1a1a" stroke-width="1.15" rx="0.6"/>
<line x1="205.88" y1="339.3" x2="209.28" y2="339.3" stroke="#1a1a1a" stroke-width="0.8" />
<line x1="205.88" y1="350.8" x2="209.28" y2="350.8" stroke="#1a1a1a" stroke-width="0.8" />
<rect x="205.88" y="387" width="3.4" height="19.7" fill="url(#pg)" stroke="#1a1a1a" stroke-width="1.15" rx="0.6"/>
<line x1="205.88" y1="402.5" x2="209.28" y2="402.5" stroke="#1a1a1a" stroke-width="0.8" />
<rect x="214.97" y="321.2" width="3.4" height="7.4" fill="url(#pg)" stroke="#1a1a1a" stroke-width="1.15" rx="0.6"/>
<rect x="214.97" y="412.4" width="3.4" height="7.1" fill="url(#pg)" stroke="#1a1a1a" stroke-width="1.15" rx="0.6"/>
<rect x="214.97" y="335.1" width="3.4" height="20.1" fill="url(#pg)" stroke="#1a1a1a" stroke-width="1.15" rx="0.6"/>
<line x1="214.97" y1="339.3" x2="218.37" y2="339.3" stroke="#1a1a1a" stroke-width="0.8" />
<line x1="214.97" y1="350.8" x2="218.37" y2="350.8" stroke="#1a1a1a" stroke-width="0.8" />
<rect x="214.97" y="387" width="3.4" height="19.7" fill="url(#pg)" stroke="#1a1a1a" stroke-width="1.15" rx="0.6"/>
<line x1="214.97" y1="402.5" x2="218.37" y2="402.5" stroke="#1a1a1a" stroke-width="0.8" />
<rect x="224.05" y="321.2" width="3.4" height="7.4" fill="url(#pg)" stroke="#1a1a1a" stroke-width="1.15" rx="0.6"/>
<rect x="224.05" y="412.4" width="3.4" height="7.1" fill="url(#pg)" stroke="#1a1a1a" stroke-width="1.15" rx="0.6"/>
<rect x="224.05" y="335.1" width="3.4" height="20.1" fill="url(#pg)" stroke="#1a1a1a" stroke-width="1.15" rx="0.6"/>
<line x1="224.05" y1="339.3" x2="227.45" y2="339.3" stroke="#1a1a1a" stroke-width="0.8" />
<line x1="224.05" y1="350.8" x2="227.45" y2="350.8" stroke="#1a1a1a" stroke-width="0.8" />
<rect x="224.05" y="387" width="3.4" height="19.7" fill="url(#pg)" stroke="#1a1a1a" stroke-width="1.15" rx="0.6"/>
<line x1="224.05" y1="402.5" x2="227.45" y2="402.5" stroke="#1a1a1a" stroke-width="0.8" />
<rect x="233.13" y="321.2" width="3.4" height="7.4" fill="url(#pg)" stroke="#1a1a1a" stroke-width="1.15" rx="0.6"/>
<rect x="233.13" y="412.4" width="3.4" height="7.1" fill="url(#pg)" stroke="#1a1a1a" stroke-width="1.15" rx="0.6"/>
<rect x="233.13" y="335.1" width="3.4" height="20.1" fill="url(#pg)" stroke="#1a1a1a" stroke-width="1.15" rx="0.6"/>
<line x1="233.13" y1="339.3" x2="236.53" y2="339.3" stroke="#1a1a1a" stroke-width="0.8" />
<line x1="233.13" y1="350.8" x2="236.53" y2="350.8" stroke="#1a1a1a" stroke-width="0.8" />
<rect x="233.13" y="387" width="3.4" height="19.7" fill="url(#pg)" stroke="#1a1a1a" stroke-width="1.15" rx="0.6"/>
<line x1="233.13" y1="402.5" x2="236.53" y2="402.5" stroke="#1a1a1a" stroke-width="0.8" />
<rect x="242.22" y="321.2" width="3.4" height="7.4" fill="url(#pg)" stroke="#1a1a1a" stroke-width="1.15" rx="0.6"/>
<rect x="242.22" y="412.4" width="3.4" height="7.1" fill="url(#pg)" stroke="#1a1a1a" stroke-width="1.15" rx="0.6"/>
<rect x="242.22" y="335.1" width="3.4" height="20.1" fill="url(#pg)" stroke="#1a1a1a" stroke-width="1.15" rx="0.6"/>
<line x1="242.22" y1="339.3" x2="245.62" y2="339.3" stroke="#1a1a1a" stroke-width="0.8" />
<line x1="242.22" y1="350.8" x2="245.62" y2="350.8" stroke="#1a1a1a" stroke-width="0.8" />
<rect x="242.22" y="387" width="3.4" height="19.7" fill="url(#pg)" stroke="#1a1a1a" stroke-width="1.15" rx="0.6"/>
<line x1="242.22" y1="402.5" x2="245.62" y2="402.5" stroke="#1a1a1a" stroke-width="0.8" />
<rect x="251.3" y="321.2" width="3.4" height="7.4" fill="url(#pg)" stroke="#1a1a1a" stroke-width="1.15" rx="0.6"/>
<rect x="251.3" y="412.4" width="3.4" height="7.1" fill="url(#pg)" stroke="#1a1a1a" stroke-width="1.15" rx="0.6"/>
<rect x="251.3" y="335.1" width="3.4" height="20.1" fill="url(#pg)" stroke="#1a1a1a" stroke-width="1.15" rx="0.6"/>
<line x1="251.3" y1="339.3" x2="254.7" y2="339.3" stroke="#1a1a1a" stroke-width="0.8" />
<line x1="251.3" y1="350.8" x2="254.7" y2="350.8" stroke="#1a1a1a" stroke-width="0.8" />
<rect x="251.3" y="387" width="3.4" height="19.7" fill="url(#pg)" stroke="#1a1a1a" stroke-width="1.15" rx="0.6"/>
<line x1="251.3" y1="402.5" x2="254.7" y2="402.5" stroke="#1a1a1a" stroke-width="0.8" />
<rect x="260.38" y="321.2" width="3.4" height="7.4" fill="url(#pg)" stroke="#1a1a1a" stroke-width="1.15" rx="0.6"/>
<rect x="260.38" y="412.4" width="3.4" height="7.1" fill="url(#pg)" stroke="#1a1a1a" stroke-width="1.15" rx="0.6"/>
<rect x="260.38" y="335.1" width="3.4" height="20.1" fill="url(#pg)" stroke="#1a1a1a" stroke-width="1.15" rx="0.6"/>
<line x1="260.38" y1="339.3" x2="263.78" y2="339.3" stroke="#1a1a1a" stroke-width="0.8" />
<line x1="260.38" y1="350.8" x2="263.78" y2="350.8" stroke="#1a1a1a" stroke-width="0.8" />
<rect x="260.38" y="387" width="3.4" height="19.7" fill="url(#pg)" stroke="#1a1a1a" stroke-width="1.15" rx="0.6"/>
<line x1="260.38" y1="402.5" x2="263.78" y2="402.5" stroke="#1a1a1a" stroke-width="0.8" />
<rect x="269.47" y="321.2" width="3.4" height="7.4" fill="url(#pg)" stroke="#1a1a1a" stroke-width="1.15" rx="0.6"/>
<rect x="269.47" y="412.4" width="3.4" height="7.1" fill="url(#pg)" stroke="#1a1a1a" stroke-width="1.15" rx="0.6"/>
<rect x="269.47" y="335.1" width="3.4" height="20.1" fill="url(#pg)" stroke="#1a1a1a" stroke-width="1.15" rx="0.6"/>
<line x1="269.47" y1="339.3" x2="272.87" y2="339.3" stroke="#1a1a1a" stroke-width="0.8" />
<line x1="269.47" y1="350.8" x2="272.87" y2="350.8" stroke="#1a1a1a" stroke-width="0.8" />
<rect x="269.47" y="387" width="3.4" height="19.7" fill="url(#pg)" stroke="#1a1a1a" stroke-width="1.15" rx="0.6"/>
<line x1="269.47" y1="402.5" x2="272.87" y2="402.5" stroke="#1a1a1a" stroke-width="0.8" />
<rect x="278.55" y="321.2" width="3.4" height="7.4" fill="url(#pg)" stroke="#1a1a1a" stroke-width="1.15" rx="0.6"/>
<rect x="278.55" y="412.4" width="3.4" height="7.1" fill="url(#pg)" stroke="#1a1a1a" stroke-width="1.15" rx="0.6"/>
<rect x="278.55" y="335.1" width="3.4" height="20.1" fill="url(#pg)" stroke="#1a1a1a" stroke-width="1.15" rx="0.6"/>
<line x1="278.55" y1="339.3" x2="281.95" y2="339.3" stroke="#1a1a1a" stroke-width="0.8" />
<line x1="278.55" y1="350.8" x2="281.95" y2="350.8" stroke="#1a1a1a" stroke-width="0.8" />
<rect x="278.55" y="387" width="3.4" height="19.7" fill="url(#pg)" stroke="#1a1a1a" stroke-width="1.15" rx="0.6"/>
<line x1="278.55" y1="402.5" x2="281.95" y2="402.5" stroke="#1a1a1a" stroke-width="0.8" />
<rect x="287.63" y="321.2" width="3.4" height="7.4" fill="url(#pg)" stroke="#1a1a1a" stroke-width="1.15" rx="0.6"/>
<rect x="287.63" y="412.4" width="3.4" height="7.1" fill="url(#pg)" stroke="#1a1a1a" stroke-width="1.15" rx="0.6"/>
<rect x="287.63" y="335.1" width="3.4" height="20.1" fill="url(#pg)" stroke="#1a1a1a" stroke-width="1.15" rx="0.6"/>
<line x1="287.63" y1="339.3" x2="291.03" y2="339.3" stroke="#1a1a1a" stroke-width="0.8" />
<line x1="287.63" y1="350.8" x2="291.03" y2="350.8" stroke="#1a1a1a" stroke-width="0.8" />
<rect x="287.63" y="387" width="3.4" height="19.7" fill="url(#pg)" stroke="#1a1a1a" stroke-width="1.15" rx="0.6"/>
<line x1="287.63" y1="402.5" x2="291.03" y2="402.5" stroke="#1a1a1a" stroke-width="0.8" />
<rect x="296.72" y="321.2" width="3.4" height="7.4" fill="url(#pg)" stroke="#1a1a1a" stroke-width="1.15" rx="0.6"/>
<rect x="296.72" y="412.4" width="3.4" height="7.1" fill="url(#pg)" stroke="#1a1a1a" stroke-width="1.15" rx="0.6"/>
<rect x="296.72" y="335.1" width="3.4" height="20.1" fill="url(#pg)" stroke="#1a1a1a" stroke-width="1.15" rx="0.6"/>
<line x1="296.72" y1="339.3" x2="300.12" y2="339.3" stroke="#1a1a1a" stroke-width="0.8" />
<line x1="296.72" y1="350.8" x2="300.12" y2="350.8" stroke="#1a1a1a" stroke-width="0.8" />
<rect x="296.72" y="387" width="3.4" height="19.7" fill="url(#pg)" stroke="#1a1a1a" stroke-width="1.15" rx="0.6"/>
<line x1="296.72" y1="402.5" x2="300.12" y2="402.5" stroke="#1a1a1a" stroke-width="0.8" />
<rect x="305.8" y="321.2" width="3.4" height="7.4" fill="url(#pg)" stroke="#1a1a1a" stroke-width="1.15" rx="0.6"/>
<rect x="305.8" y="412.4" width="3.4" height="7.1" fill="url(#pg)" stroke="#1a1a1a" stroke-width="1.15" rx="0.6"/>
<rect x="305.8" y="335.1" width="3.4" height="20.1" fill="url(#pg)" stroke="#1a1a1a" stroke-width="1.15" rx="0.6"/>
<line x1="305.8" y1="339.3" x2="309.2" y2="339.3" stroke="#1a1a1a" stroke-width="0.8" />
<line x1="305.8" y1="350.8" x2="309.2" y2="350.8" stroke="#1a1a1a" stroke-width="0.8" />
<rect x="305.8" y="387" width="3.4" height="19.7" fill="url(#pg)" stroke="#1a1a1a" stroke-width="1.15" rx="0.6"/>
<line x1="305.8" y1="402.5" x2="309.2" y2="402.5" stroke="#1a1a1a" stroke-width="0.8" />
<path d="M218.6,317.3 C211,330 209,345 213,360 C218,378 224,395 213.4,425.9" stroke="#1a1a1a" stroke-width="3.6" fill="none" />
<path d="M218.6,317.3 C211,330 209,345 213,360 C218,378 224,395 213.4,425.9" stroke="#fff" stroke-width="1.6" fill="none" />
<line x1="56.4" y1="253.5" x2="56.4" y2="344" stroke="#333" stroke-width="0.8" />
<line x1="340.6" y1="253.5" x2="340.6" y2="344" stroke="#333" stroke-width="0.8" />
<line x1="56.4" y1="257.5" x2="340.6" y2="257.5" stroke="#333" stroke-width="0.8" />
<polygon points="56.6,257.5 60.9,256.15 60.9,258.85" fill="#333"/>
<polygon points="340.4,257.5 336.1,256.15 336.1,258.85" fill="#333"/>
<text x="198.7" y="255.3" font-size="9.8" text-anchor="middle" fill="#000" letter-spacing="0"  stroke="#000" stroke-width="0.12">A</text>
<line x1="89.5" y1="265.5" x2="89.5" y2="321" stroke="#333" stroke-width="0.8" />
<line x1="307.5" y1="265.5" x2="307.5" y2="321" stroke="#333" stroke-width="0.8" />
<line x1="89.5" y1="269.2" x2="307.5" y2="269.2" stroke="#333" stroke-width="0.8" />
<polygon points="89.7,269.2 94,267.85 94,270.55" fill="#333"/>
<polygon points="307.3,269.2 303,267.85 303,270.55" fill="#333"/>
<text x="183.4" y="267.4" font-size="9.7" text-anchor="start" fill="#000" textLength="29.4" lengthAdjust="spacing"  stroke="#000" stroke-width="0.12">B±0.1</text>
<line x1="189.42" y1="278.5" x2="189.42" y2="321" stroke="#333" stroke-width="0.8" />
<line x1="207.58" y1="278.5" x2="207.58" y2="321" stroke="#333" stroke-width="0.8" />
<line x1="140" y1="282.4" x2="256" y2="282.4" stroke="#333" stroke-width="0.8" />
<polygon points="189.22,282.4 184.92,281.05 184.92,283.75" fill="#333"/>
<polygon points="207.78,282.4 212.08,281.05 212.08,283.75" fill="#333"/>
<polygon points="195.9,282.4 198.5,279.8 201.1,282.4 198.5,285" fill="#000" stroke="#000" stroke-width="0.6" stroke-linejoin="round"/>
<text x="139.8" y="280.3" font-size="9.3" text-anchor="start" fill="#000" textLength="42.7" lengthAdjust="spacing"  stroke="#000" stroke-width="0.12">0.5±0.05</text>
<text x="212.7" y="280.8" font-size="9.3" text-anchor="start" fill="#000" textLength="42.7" lengthAdjust="spacing"  stroke="#000" stroke-width="0.12">0.5±0.05</text>
<text x="210.8" y="292.7" font-size="9.3" text-anchor="start" fill="#000" textLength="42.7" lengthAdjust="spacing"  stroke="#000" stroke-width="0.12">0.2±0.03</text>
<line x1="198.5" y1="282.4" x2="198.5" y2="321" stroke="#333" stroke-width="0.8" />
<line x1="196.3" y1="290.5" x2="196.3" y2="321" stroke="#333" stroke-width="0.8" />
<line x1="200.7" y1="290.5" x2="200.7" y2="321" stroke="#333" stroke-width="0.8" />
<line x1="177.4" y1="295.3" x2="255" y2="295.3" stroke="#333" stroke-width="0.8" />
<polygon points="196,295.3 191.7,293.95 191.7,296.65" fill="#333"/>
<polygon points="201,295.3 205.3,293.95 205.3,296.65" fill="#333"/>
<line x1="48.4" y1="296" x2="48.4" y2="386.5" stroke="#333" stroke-width="0.8" />
<polygon points="48.4,355.5 47.05,359.8 49.75,359.8" fill="#333"/>
<polygon points="48.4,386.3 47.05,382 49.75,382" fill="#333"/>
<text x="0" y="0" font-size="10" text-anchor="start" fill="#000" textLength="24.6" lengthAdjust="spacing" transform="translate(47.0,353) rotate(-90)" stroke="#000" stroke-width="0.12">1.82(</text>
<text x="0" y="0" font-size="10.2" text-anchor="start" fill="#000" letter-spacing="0" transform="translate(45.7,328.8) rotate(-90)" stroke="#000" stroke-width="0.12">吸附面</text>
<text x="0" y="0" font-size="10" text-anchor="start" fill="#000" letter-spacing="0" transform="translate(47.0,299.4) rotate(-90)" stroke="#000" stroke-width="0.12">)</text>
<line x1="324" y1="328.6" x2="360" y2="328.6" stroke="#9a9a9a" stroke-width="0.9" />
<line x1="340" y1="412.2" x2="360" y2="412.2" stroke="#9a9a9a" stroke-width="0.9" />
<line x1="354.2" y1="328.8" x2="354.2" y2="412" stroke="#333" stroke-width="0.8" />
<polygon points="354.2,328.8 352.85,333.1 355.55,333.1" fill="#333"/>
<polygon points="354.2,412 352.85,407.7 355.55,407.7" fill="#333"/>
<text x="0" y="0" font-size="9.3" text-anchor="start" fill="#000" textLength="14.3" lengthAdjust="spacing" transform="translate(351.5,377.3) rotate(-90)" stroke="#000" stroke-width="0.12">4.6</text>
<path d="M56.4,469.5 H339 V522.8 H317.9 V518.5 H77.6 V522.8 H56.4 Z" stroke="#1a1a1a" stroke-width="1.3" fill="none" />
<line x1="77.6" y1="520.6" x2="317.9" y2="520.6" stroke="#1a1a1a" stroke-width="0.8" />
<rect x="87.1" y="518.8" width="4.8" height="4.4" fill="#fff" stroke="#1a1a1a" stroke-width="1.1"/>
<rect x="96.18" y="518.8" width="4.8" height="4.4" fill="#fff" stroke="#1a1a1a" stroke-width="1.1"/>
<rect x="105.27" y="518.8" width="4.8" height="4.4" fill="#fff" stroke="#1a1a1a" stroke-width="1.1"/>
<rect x="114.35" y="518.8" width="4.8" height="4.4" fill="#fff" stroke="#1a1a1a" stroke-width="1.1"/>
<rect x="123.43" y="518.8" width="4.8" height="4.4" fill="#fff" stroke="#1a1a1a" stroke-width="1.1"/>
<rect x="132.52" y="518.8" width="4.8" height="4.4" fill="#fff" stroke="#1a1a1a" stroke-width="1.1"/>
<rect x="141.6" y="518.8" width="4.8" height="4.4" fill="#fff" stroke="#1a1a1a" stroke-width="1.1"/>
<rect x="150.68" y="518.8" width="4.8" height="4.4" fill="#fff" stroke="#1a1a1a" stroke-width="1.1"/>
<rect x="159.77" y="518.8" width="4.8" height="4.4" fill="#fff" stroke="#1a1a1a" stroke-width="1.1"/>
<rect x="168.85" y="518.8" width="4.8" height="4.4" fill="#fff" stroke="#1a1a1a" stroke-width="1.1"/>
<rect x="177.93" y="518.8" width="4.8" height="4.4" fill="#fff" stroke="#1a1a1a" stroke-width="1.1"/>
<rect x="187.02" y="518.8" width="4.8" height="4.4" fill="#fff" stroke="#1a1a1a" stroke-width="1.1"/>
<rect x="196.1" y="518.8" width="4.8" height="4.4" fill="#fff" stroke="#1a1a1a" stroke-width="1.1"/>
<rect x="205.18" y="518.8" width="4.8" height="4.4" fill="#fff" stroke="#1a1a1a" stroke-width="1.1"/>
<rect x="214.27" y="518.8" width="4.8" height="4.4" fill="#fff" stroke="#1a1a1a" stroke-width="1.1"/>
<rect x="223.35" y="518.8" width="4.8" height="4.4" fill="#fff" stroke="#1a1a1a" stroke-width="1.1"/>
<rect x="232.43" y="518.8" width="4.8" height="4.4" fill="#fff" stroke="#1a1a1a" stroke-width="1.1"/>
<rect x="241.52" y="518.8" width="4.8" height="4.4" fill="#fff" stroke="#1a1a1a" stroke-width="1.1"/>
<rect x="250.6" y="518.8" width="4.8" height="4.4" fill="#fff" stroke="#1a1a1a" stroke-width="1.1"/>
<rect x="259.68" y="518.8" width="4.8" height="4.4" fill="#fff" stroke="#1a1a1a" stroke-width="1.1"/>
<rect x="268.77" y="518.8" width="4.8" height="4.4" fill="#fff" stroke="#1a1a1a" stroke-width="1.1"/>
<rect x="277.85" y="518.8" width="4.8" height="4.4" fill="#fff" stroke="#1a1a1a" stroke-width="1.1"/>
<rect x="286.93" y="518.8" width="4.8" height="4.4" fill="#fff" stroke="#1a1a1a" stroke-width="1.1"/>
<rect x="296.02" y="518.8" width="4.8" height="4.4" fill="#fff" stroke="#1a1a1a" stroke-width="1.1"/>
<rect x="305.1" y="518.8" width="4.8" height="4.4" fill="#fff" stroke="#1a1a1a" stroke-width="1.1"/>
<line x1="197.6" y1="456.5" x2="197.6" y2="537" stroke="#333" stroke-width="0.7" stroke-dasharray="10,2.5,2.5,2.5"/>
<path d="M217.3,462.3 C212,470 210,482 213,492 C217,504 221,515 214,529.3" stroke="#1a1a1a" stroke-width="3.4" fill="none" />
<path d="M217.3,462.3 C212,470 210,482 213,492 C217,504 221,515 214,529.3" stroke="#fff" stroke-width="1.5" fill="none" />
<line x1="371.6" y1="254.3" x2="371.6" y2="330" stroke="#333" stroke-width="0.8" />
<line x1="418.4" y1="254.3" x2="418.4" y2="322" stroke="#333" stroke-width="0.8" />
<line x1="371.6" y1="257.5" x2="433.2" y2="257.9" stroke="#333" stroke-width="0.8" />
<polygon points="371.8,257.5 376.1,256.15 376.1,258.85" fill="#333"/>
<polygon points="418.2,257.5 413.9,256.15 413.9,258.85" fill="#333"/>
<polygon points="418.6,257.7 422.9,256.35 422.9,259.05" fill="#333"/>
<text x="394" y="255.4" font-size="10.2" text-anchor="middle" fill="#000" letter-spacing="0"  stroke="#000" stroke-width="0.12">C</text>
<rect x="433.2" y="247.6" width="58.5" height="19.4" fill="none" stroke="#333" stroke-width="0.9"/>
<line x1="458.4" y1="247.6" x2="458.4" y2="267" stroke="#333" stroke-width="0.9" />
<path d="M437,261.6 A9.1,8.8 0 0 1 455.2,261.6 Z" stroke="#222" stroke-width="0.8" fill="none" />
<text x="0" y="0" font-size="12.4" text-anchor="start" fill="#000" textLength="30.2" lengthAdjust="spacing" transform="translate(462.9,261.9) scale(0.82,1)" stroke="#000" stroke-width="0.12">0.10</text>
<text x="432.8" y="244.2" font-size="9.1" text-anchor="start" fill="#000" letter-spacing="0" stroke="#000" stroke-width="0.35">端子平坦度</text>
<path d="M371.6,328.6 H416.5 V321.3 H418.4" stroke="#1a1a1a" stroke-width="1.2" fill="none" />
<line x1="418.4" y1="321.3" x2="470.3" y2="321.3" stroke="#1a1a1a" stroke-width="0.9" />
<path d="M371.6,328.6 V412.2 H416.5 V419.3 H418.4" stroke="#1a1a1a" stroke-width="1.2" fill="none" />
<line x1="418.4" y1="419.3" x2="470.3" y2="419.3" stroke="#1a1a1a" stroke-width="0.9" />
<line x1="418.4" y1="321.3" x2="418.4" y2="419.3" stroke="#1a1a1a" stroke-width="1.2" />
<clipPath id="h1"><polygon points="372,329 388,329 391,337.5 372,337.5"/></clipPath>
<clipPath id="h2"><polygon points="372,403 391,403 388,412 372,412"/></clipPath>
<path d="M373.5,329 l6,8.6 M378.3,329 l6,8.6 M383.1,329 l6,8.6 M388,329 l6,8.6 " stroke="#333" stroke-width="0.8" clip-path="url(#h1)"/>
<path d="M368.5,403.2 l6,8.6 M373.3,403.2 l6,8.6 M378.1,403.2 l6,8.6 M383,403.2 l6,8.6 " stroke="#333" stroke-width="0.8" clip-path="url(#h2)"/>
<line x1="371.6" y1="337.6" x2="391" y2="337.6" stroke="#1a1a1a" stroke-width="1" />
<line x1="371.6" y1="403" x2="391" y2="403" stroke="#1a1a1a" stroke-width="1" />
<path d="M387.5,328.8 C396,342 401,356 400,370.3 C400,386 396,400 387.5,412" stroke="#1a1a1a" stroke-width="1.1" fill="none" />
<path d="M396,340.4 H377 A4.2,4.2 0 0 0 377,348.8 H382.5 C385,348.8 385.5,352 387.5,352 C390,352 391,348.6 393.5,347.6 L398,346" stroke="#1a1a1a" stroke-width="3.0" fill="none" />
<path d="M396,340.4 H377 A4.2,4.2 0 0 0 377,348.8 H382.5 C385,348.8 385.5,352 387.5,352 C390,352 391,348.6 393.5,347.6 L398,346" stroke="#fff" stroke-width="1.0" fill="none" />
<path d="M396,400.2 H377 A4.2,4.2 0 0 1 377,391.8 H382.5 C385,391.8 385.5,388.6 387.5,388.6 C390,388.6 391,392 393.5,393 L398,394.6" stroke="#1a1a1a" stroke-width="3.0" fill="none" />
<path d="M396,400.2 H377 A4.2,4.2 0 0 1 377,391.8 H382.5 C385,391.8 385.5,388.6 387.5,388.6 C390,388.6 391,392 393.5,393 L398,394.6" stroke="#fff" stroke-width="1.0" fill="none" />
<line x1="371.6" y1="350.5" x2="383" y2="350.5" stroke="#555" stroke-width="0.8" />
<line x1="371.6" y1="353.5" x2="397" y2="353.5" stroke="#1a1a1a" stroke-width="0.9" />
<line x1="371.6" y1="363.3" x2="398.5" y2="363.3" stroke="#1a1a1a" stroke-width="0.9" />
<line x1="371.6" y1="377.3" x2="398.5" y2="377.3" stroke="#1a1a1a" stroke-width="0.9" />
<line x1="371.6" y1="390.1" x2="383" y2="390.1" stroke="#555" stroke-width="0.8" />
<line x1="371.6" y1="387.1" x2="397" y2="387.1" stroke="#1a1a1a" stroke-width="0.9" />
<line x1="375.4" y1="363.3" x2="375.4" y2="377.3" stroke="#1a1a1a" stroke-width="0.9" />
<line x1="395" y1="345.3" x2="418.4" y2="345.3" stroke="#1a1a1a" stroke-width="1" />
<line x1="395" y1="395.3" x2="418.4" y2="395.3" stroke="#1a1a1a" stroke-width="1" />
<path d="M394,339.4 H412 Q416,339.4 416,335 V329" stroke="#555" stroke-width="0.7" fill="none" stroke-dasharray="2,1.2"/>
<line x1="395" y1="341.3" x2="416" y2="341.3" stroke="#555" stroke-width="0.7" stroke-dasharray="2,1.2"/>
<path d="M394,401.2 H412 Q416,401.2 416,405 V412" stroke="#555" stroke-width="0.7" fill="none" stroke-dasharray="2,1.2"/>
<line x1="395" y1="399.3" x2="416" y2="399.3" stroke="#555" stroke-width="0.7" stroke-dasharray="2,1.2"/>
<line x1="416.3" y1="413" x2="416.3" y2="419.3" stroke="#555" stroke-width="0.7" />
<line x1="364.3" y1="370.3" x2="422.6" y2="370.3" stroke="#333" stroke-width="0.75" stroke-dasharray="15.7,3.3,1.2,3.3"/>
<line x1="418.4" y1="341.4" x2="458.8" y2="341.4" stroke="#333" stroke-width="0.8" />
<line x1="418.4" y1="399.3" x2="458.8" y2="399.3" stroke="#333" stroke-width="0.8" />
<line x1="454.5" y1="289" x2="454.5" y2="450.5" stroke="#333" stroke-width="0.8" />
<polygon points="454.5,321.2 453.15,316.9 455.85,316.9" fill="#333"/>
<polygon points="454.5,341.6 453.15,345.9 455.85,345.9" fill="#333"/>
<polygon points="454.5,399.1 453.15,394.8 455.85,394.8" fill="#333"/>
<polygon points="454.5,419.5 453.15,423.8 455.85,423.8" fill="#333"/>
<line x1="467.1" y1="321.5" x2="467.1" y2="419.1" stroke="#333" stroke-width="0.8" />
<polygon points="467.1,321.5 465.75,325.8 468.45,325.8" fill="#333"/>
<polygon points="467.1,419.1 465.75,414.8 468.45,414.8" fill="#333"/>
<text x="0" y="0" font-size="9.5" text-anchor="start" fill="#000" textLength="25.5" lengthAdjust="spacing" transform="translate(451.4,314.9) rotate(-90)" stroke="#000" stroke-width="0.12">(1.10)</text>
<text x="0" y="0" font-size="9.3" text-anchor="start" fill="#000" textLength="20.5" lengthAdjust="spacing" transform="translate(452.3,380) rotate(-90)" stroke="#000" stroke-width="0.12">3.20</text>
<text x="0" y="0" font-size="9.3" text-anchor="start" fill="#000" textLength="14.6" lengthAdjust="spacing" transform="translate(465.2,377.4) rotate(-90)" stroke="#000" stroke-width="0.12">5.4</text>
<text x="0" y="0" font-size="9.5" text-anchor="start" fill="#000" textLength="26.5" lengthAdjust="spacing" transform="translate(451.2,451.2) rotate(-90)" stroke="#000" stroke-width="0.12">(1.10)</text>
<line x1="417.3" y1="419.3" x2="417.3" y2="450" stroke="#333" stroke-width="0.7" />
<path d="M419.5,419.3 C419.5,430 421,440 420.5,450" stroke="#333" stroke-width="0.7" fill="none" />
<line x1="364" y1="449.5" x2="417.2" y2="444.6" stroke="#333" stroke-width="0.7" />
<polygon points="417.1,444.6 412.8,443.25 412.8,445.95" fill="#333"/>
<polygon points="420.7,444.6 425,443.25 425,445.95" fill="#333"/>
<line x1="420.7" y1="444.6" x2="431" y2="444.6" stroke="#333" stroke-width="0.7" />
<text x="0" y="0" font-size="9.3" text-anchor="start" fill="#000" textLength="47.3" lengthAdjust="spacing" transform="translate(363.6,446) rotate(-3.9)" stroke="#000" stroke-width="0.12">0.15±0.03</text>
<g stroke="#000" stroke-width="0.25"><rect x="513" y="320" width="138.2" height="3" fill="#000"/>
<rect x="513" y="323" width="138.2" height="15.6" fill="#dcdcdc"/>
<rect x="513" y="338.5" width="138.2" height="3" fill="#000"/>
<line x1="513" y1="323.5" x2="558" y2="338.5" stroke="#111" stroke-width="0.9"/>
<text x="558.3" y="331.2" font-size="9" text-anchor="end" fill="#000">尺寸</text>
<text x="513.6" y="336.6" font-size="8" fill="#000" stroke-width="0.4">芯数</text>
<text x="583.2" y="334.5" font-size="10.5" text-anchor="middle" fill="#111">A</text>
<text x="629" y="334.5" font-size="10.5" text-anchor="middle" fill="#111">B</text>
<rect x="513" y="341.4" width="46.4" height="18.2" fill="#b6b6b6"/>
<text x="545.6" y="354.9" font-size="11.5" text-anchor="end" fill="#111">20</text>
<text x="597" y="354.9" font-size="11.5" text-anchor="end" fill="#111">8.20</text>
<text x="643" y="354.9" font-size="11.5" text-anchor="end" fill="#111">4.50</text>
<rect x="513" y="360.1" width="46.4" height="18.3" fill="#b6b6b6"/>
<rect x="513" y="359.1" width="138.2" height="1" fill="#000"/>
<text x="545.6" y="373.1" font-size="11.5" text-anchor="end" fill="#111">24</text>
<text x="597" y="373.1" font-size="11.5" text-anchor="end" fill="#111">9.20</text>
<text x="643" y="373.1" font-size="11.5" text-anchor="end" fill="#111">5.50</text>
<rect x="513" y="378.9" width="46.4" height="17.5" fill="#b6b6b6"/>
<rect x="513" y="377.9" width="138.2" height="1" fill="#000"/>
<text x="545.6" y="391.9" font-size="11.5" text-anchor="end" fill="#111">30</text>
<text x="597" y="391.9" font-size="11.5" text-anchor="end" fill="#111">10.70</text>
<text x="643" y="391.9" font-size="11.5" text-anchor="end" fill="#111">7.00</text>
<rect x="513" y="396.9" width="46.4" height="17.9" fill="#b6b6b6"/>
<rect x="513" y="395.9" width="138.2" height="1" fill="#000"/>
<text x="545.6" y="409.9" font-size="11.5" text-anchor="end" fill="#111">34</text>
<text x="597" y="409.9" font-size="11.5" text-anchor="end" fill="#111">11.70</text>
<text x="643" y="409.9" font-size="11.5" text-anchor="end" fill="#111">8.00</text>
<rect x="513" y="415.3" width="46.4" height="18" fill="#b6b6b6"/>
<rect x="513" y="414.3" width="138.2" height="1" fill="#000"/>
<text x="545.6" y="428.3" font-size="11.5" text-anchor="end" fill="#111">40</text>
<text x="597" y="428.3" font-size="11.5" text-anchor="end" fill="#111">13.20</text>
<text x="643" y="428.3" font-size="11.5" text-anchor="end" fill="#111">9.50</text>
<rect x="513" y="433.8" width="46.4" height="17.5" fill="#b6b6b6"/>
<rect x="513" y="432.8" width="138.2" height="1" fill="#000"/>
<text x="545.6" y="446.8" font-size="11.5" text-anchor="end" fill="#111">50</text>
<text x="597" y="446.8" font-size="11.5" text-anchor="end" fill="#111">15.70</text>
<text x="643" y="446.8" font-size="11.5" text-anchor="end" fill="#111">12.00</text>
<rect x="513" y="451.8" width="46.4" height="17.7" fill="#b6b6b6"/>
<rect x="513" y="450.8" width="138.2" height="1" fill="#000"/>
<text x="545.6" y="464.8" font-size="11.5" text-anchor="end" fill="#111">60</text>
<text x="597" y="464.8" font-size="11.5" text-anchor="end" fill="#111">18.20</text>
<text x="643" y="464.8" font-size="11.5" text-anchor="end" fill="#111">14.50</text>
<rect x="513" y="470" width="46.4" height="18" fill="#b6b6b6"/>
<rect x="513" y="469" width="138.2" height="1" fill="#000"/>
<text x="545.6" y="483" font-size="11.5" text-anchor="end" fill="#111">70</text>
<text x="597" y="483" font-size="11.5" text-anchor="end" fill="#111">20.70</text>
<text x="643" y="483" font-size="11.5" text-anchor="end" fill="#111">17.00</text>
<rect x="513" y="488.5" width="46.4" height="17.5" fill="#b6b6b6"/>
<rect x="513" y="487.5" width="138.2" height="1" fill="#000"/>
<text x="545.6" y="501.5" font-size="11.5" text-anchor="end" fill="#111">80</text>
<text x="597" y="501.5" font-size="11.5" text-anchor="end" fill="#111">23.20</text>
<text x="643" y="501.5" font-size="11.5" text-anchor="end" fill="#111">19.50</text>
<rect x="513" y="506.5" width="46.4" height="17.5" fill="#b6b6b6"/>
<rect x="513" y="505.5" width="138.2" height="1" fill="#000"/>
<text x="545.6" y="519.5" font-size="11.5" text-anchor="end" fill="#111">100</text>
<text x="597" y="519.5" font-size="11.5" text-anchor="end" fill="#111">28.20</text>
<text x="643" y="519.5" font-size="11.5" text-anchor="end" fill="#111">24.50</text>
<rect x="513" y="523.8" width="138.2" height="3.2" fill="#000"/>
<rect x="558.8" y="323" width="1.3" height="201" fill="#000"/>
<rect x="605" y="323" width="1.4" height="201" fill="#000"/>
<rect x="472.6" y="535.3" width="178.6" height="2.5" fill="#000"/>
<rect x="472.6" y="537.8" width="178.6" height="17" fill="#dcdcdc"/>
<line x1="473" y1="538" x2="604" y2="554.6" stroke="#111" stroke-width="0.9"/>
<text x="599.5" y="548.2" font-size="9" text-anchor="end" fill="#111">尺寸</text>
<text x="476.3" y="552.6" font-size="8.6" fill="#000" stroke-width="0.4">组合高度</text>
<text x="629" y="550.8" font-size="11.2" text-anchor="middle" fill="#111">C</text>
<rect x="472.6" y="555.3" width="131.6" height="19.2" fill="#b9b9b9"/>
<rect x="472.6" y="554.3" width="178.6" height="1" fill="#000"/>
<text x="539.8" y="568.8" font-size="11.6" text-anchor="middle" fill="#111">4.0mm,5.0mm,6.0mm</text>
<text x="629" y="568.8" font-size="11.6" text-anchor="middle" fill="#111">3.05</text>
<rect x="472.6" y="575" width="131.6" height="18.4" fill="#b9b9b9"/>
<rect x="472.6" y="574" width="178.6" height="1" fill="#000"/>
<text x="539.8" y="588.5" font-size="11.6" text-anchor="middle" fill="#111">4.5mm,5.5mm,6.5mm</text>
<text x="629" y="588.5" font-size="11.6" text-anchor="middle" fill="#111">3.55</text>
<rect x="472.6" y="593.9" width="131.6" height="17.7" fill="#b9b9b9"/>
<rect x="472.6" y="592.9" width="178.6" height="1" fill="#000"/>
<text x="539.8" y="607.4" font-size="11.6" text-anchor="middle" fill="#111">7.0mm,8.0mm,9.0mm</text>
<text x="629" y="607.4" font-size="11.6" text-anchor="middle" fill="#111">6.05</text>
<rect x="472.6" y="611.6" width="178.6" height="2.8" fill="#000"/>
<rect x="604.2" y="537.8" width="1.4" height="74" fill="#000"/>
<text x="512" y="313" font-size="12" fill="#000" stroke-width="0.3">尺寸表</text></g>
</svg>
</body></html>
